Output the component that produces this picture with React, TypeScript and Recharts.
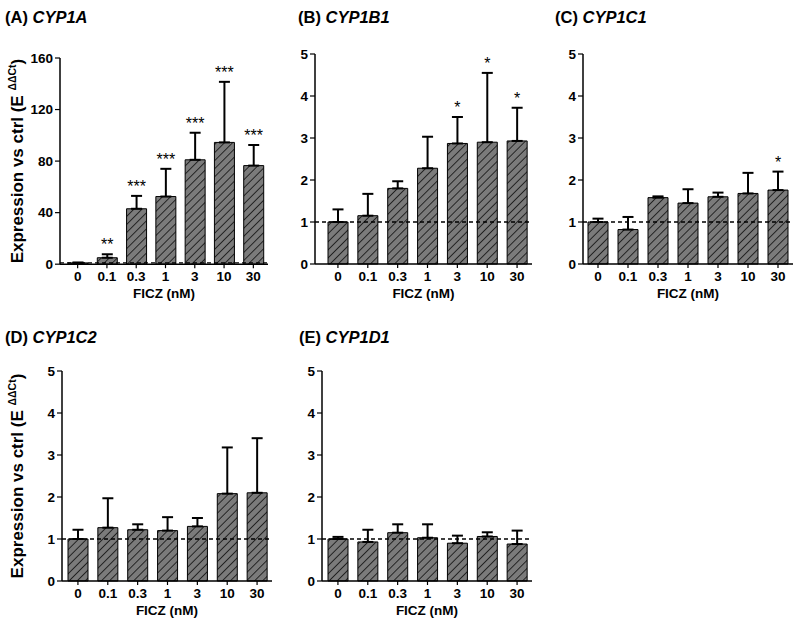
import { BarChart, Bar, XAxis, YAxis, ErrorBar, ReferenceLine, LabelList, Label } from 'recharts';

const FONT = '"Liberation Sans", Arial, sans-serif';

// FICZ doses (nM)
const doses = ['0', '0.1', '0.3', '1', '3', '10', '30'];

const cyp1aMean = [1, 5, 43, 52.5, 81, 94.5, 76.5];
const cyp1aSd = [0.3, 2.7, 10, 21.5, 21, 47, 16];
const cyp1aStars = ['', '**', '***', '***', '***', '***', '***'];

const cyp1b1Mean = [1.0, 1.15, 1.8, 2.28, 2.87, 2.9, 2.93];
const cyp1b1Sd = [0.3, 0.52, 0.17, 0.75, 0.63, 1.65, 0.79];
const cyp1b1Stars = ['', '', '', '', '*', '*', '*'];

const cyp1c1Mean = [1.0, 0.82, 1.58, 1.45, 1.6, 1.68, 1.76];
const cyp1c1Sd = [0.08, 0.3, 0.03, 0.33, 0.1, 0.49, 0.44];
const cyp1c1Stars = ['', '', '', '', '', '', '*'];

const cyp1c2Mean = [1.0, 1.27, 1.22, 1.2, 1.3, 2.08, 2.1];
const cyp1c2Sd = [0.22, 0.7, 0.13, 0.32, 0.2, 1.1, 1.3];

const cyp1d1Mean = [1.0, 0.93, 1.15, 1.03, 0.9, 1.06, 0.88];
const cyp1d1Sd = [0.05, 0.29, 0.2, 0.32, 0.18, 0.1, 0.32];

const ticksA = [0, 40, 80, 120, 160];
const ticks5 = [0, 1, 2, 3, 4, 5];

const makeData = (mean: number[], sd: number[], stars?: string[]) =>
  doses.map((d, i) => ({ dose: d, mean: mean[i], err: [0, sd[i]], sd: sd[i], stars: stars ? stars[i] : '' }));

type PanelProps = {
  data: any[];
  ticks: number[];
  axisX: number;
  plotRight: number;
  topY: number;
  zeroY: number;
  padLeft: number;
  yLabel?: boolean;
};

const YLabel = (props: any) => {
  const vb = props.viewBox;
  const x = vb.x + 23 - props.shift;
  const y = vb.y + vb.height / 2;
  return (
    <text x={x} y={y} transform={`rotate(-90, ${x}, ${y})`} textAnchor="middle"
      fontFamily={FONT} fontWeight="bold" fontSize={17} fill="#000">
      Expression vs ctrl (E <tspan fontSize={10.5} dy={-7}>ΔΔCt</tspan><tspan fontSize={17} dy={7}>)</tspan>
    </text>
  );
};

const Panel = ({ data, ticks, axisX, plotRight, topY, zeroY, padLeft, yLabel }: PanelProps) => {
  const left = axisX - 60;
  const top = topY - 30;
  const width = plotRight - left + 10;
  const height = zeroY + 45 - top;
  const max = ticks[ticks.length - 1];
  const pxPerUnit = (zeroY - topY) / max;
  const tickStyle = { fill: '#000', fontSize: 13.5, fontWeight: 'bold', fontFamily: FONT };

  const renderStars = (p: any) => {
    const row = data[p.index];
    if (!row || !row.stars) return null;
    const cx = p.x + p.width / 2;
    const yTop = p.y - row.sd * pxPerUnit;
    return (
      <text x={cx} y={yTop - 4} textAnchor="middle" fontFamily={FONT} fontSize={16} fill="#000">
        {row.stars}
      </text>
    );
  };

  return (
    <div style={{ position: 'absolute', left, top, width, height }}>
      <BarChart width={width} height={height} data={data}
        margin={{ top: 30, right: 10, bottom: 0, left: 0 }}>
        <XAxis dataKey="dose" interval={0} height={45} tickSize={4} tickMargin={3}
          padding={{ left: padLeft, right: 0 }} tick={tickStyle}
          axisLine={{ stroke: '#000', strokeWidth: 1.5 }} tickLine={{ stroke: '#000', strokeWidth: 1.2 }}>
          <Label value="FICZ (nM)" position="insideBottom" offset={11}
            style={{ fontFamily: FONT, fontWeight: 'bold', fontSize: 13.5, fill: '#000' }} />
        </XAxis>
        <YAxis domain={[0, max]} ticks={ticks} width={60} tickSize={5} tickMargin={2}
          tick={tickStyle} interval={0}
          axisLine={{ stroke: '#000', strokeWidth: 1.5 }} tickLine={{ stroke: '#000', strokeWidth: 1.2 }}>
          {yLabel ? <Label content={(p: any) => <YLabel {...p} shift={left} />} /> : null}
        </YAxis>
        <Bar dataKey="mean" barSize={20} fill="url(#hatch)" stroke="#000" strokeWidth={1}
          isAnimationActive={false}>
          <ErrorBar dataKey="err" width={5.5} stroke="#000" strokeWidth={2} direction="y" />
          <LabelList dataKey="stars" content={renderStars} />
        </Bar>
        <ReferenceLine y={1} stroke="#000" strokeWidth={1.3} strokeDasharray="4 3" />
      </BarChart>
    </div>
  );
};

const titles = [
  { letter: '(A)', gene: 'CYP1A', x: 5, y: 23 },
  { letter: '(B)', gene: 'CYP1B1', x: 298, y: 23 },
  { letter: '(C)', gene: 'CYP1C1', x: 555, y: 23 },
  { letter: '(D)', gene: 'CYP1C2', x: 5, y: 343 },
  { letter: '(E)', gene: 'CYP1D1', x: 299, y: 343 },
];

export default function App() {
  return (
    <div style={{ position: 'absolute', left: 0, top: 0, width: 800, height: 624, background: '#fff' }}>
      <svg width={800} height={624} style={{ position: 'absolute', left: 0, top: 0 }}>
        <defs>
          <pattern id="hatch" patternUnits="userSpaceOnUse" width={5.7} height={5.7} patternTransform="rotate(45)">
            <rect width={5.7} height={5.7} fill="#7b7b7b" />
            <line x1={0} y1={0} x2={0} y2={5.7} stroke="#000" strokeWidth={1.4} />
          </pattern>
        </defs>
        {titles.map((t) => (
          <text key={t.letter} x={t.x} y={t.y} fontFamily={FONT} fontWeight="bold" fontSize={16.5} fill="#000">
            {t.letter} <tspan fontStyle="italic">{t.gene}</tspan>
          </text>
        ))}
      </svg>
      <Panel data={makeData(cyp1aMean, cyp1aSd, cyp1aStars)} ticks={ticksA}
        axisX={60} plotRight={268} topY={58.3} zeroY={264.5} padLeft={3} yLabel />
      <Panel data={makeData(cyp1b1Mean, cyp1b1Sd, cyp1b1Stars)} ticks={ticks5}
        axisX={315} plotRight={532} topY={54} zeroY={264} padLeft={8} />
      <Panel data={makeData(cyp1c1Mean, cyp1c1Sd, cyp1c1Stars)} ticks={ticks5}
        axisX={583} plotRight={793} topY={54} zeroY={264} padLeft={0} />
      <Panel data={makeData(cyp1c2Mean, cyp1c2Sd)} ticks={ticks5}
        axisX={62} plotRight={272} topY={371} zeroY={581} padLeft={1} yLabel />
      <Panel data={makeData(cyp1d1Mean, cyp1d1Sd)} ticks={ticks5}
        axisX={322} plotRight={532} topY={371} zeroY={581} padLeft={1} />
    </div>
  );
}
